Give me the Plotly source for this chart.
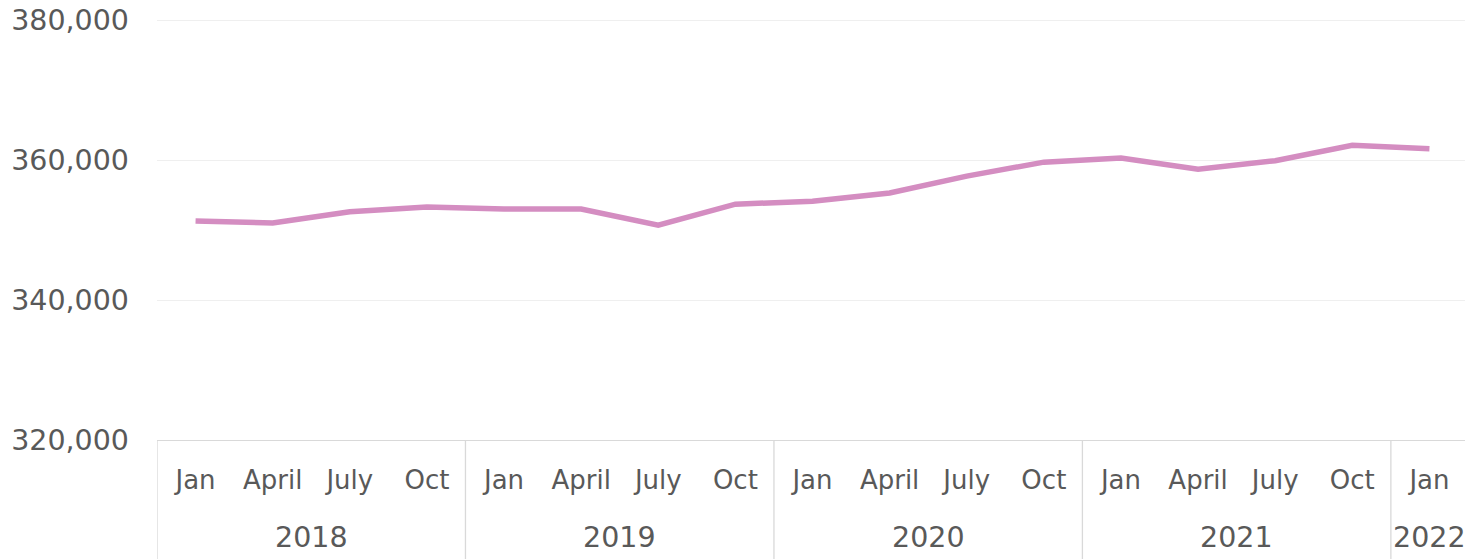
import plotly.graph_objects as go

months = ["Jan", "April", "July", "Oct",
          "Jan", "April", "July", "Oct",
          "Jan", "April", "July", "Oct",
          "Jan", "April", "July", "Oct",
          "Jan"]
years = ["2018", "2019", "2020", "2021", "2022"]
year_counts = [4, 4, 4, 4, 1]
values = [351300, 351000, 352600, 353300, 353000, 353000, 350700, 353700,
          354100, 355300, 357700, 359700, 360300, 358700, 359900, 362100, 361600]

TEXT = "#595959"
FONT = "DejaVu Sans"

x = list(range(len(values)))

fig = go.Figure()
fig.add_trace(go.Scatter(
    x=x, y=values, mode="lines",
    line=dict(color="#D48DC1", width=5.5),
    hoverinfo="skip", showlegend=False,
))

shapes = []
annotations = []
start = 0
bounds = [-0.5]
for yr, n in zip(years, year_counts):
    end = start + n
    bounds.append(end - 0.5)
    annotations.append(dict(
        x=(start + end - 1) / 2, y=0, xref="x", yref="paper",
        yshift=-97, text=yr, showarrow=False,
        font=dict(family=FONT, size=28.5, color=TEXT),
        yanchor="middle",
    ))
    start = end
for b in bounds:
    shapes.append(dict(
        type="line", xref="x", yref="paper",
        x0=b, x1=b, y0=0, y1=-0.30,
        line=dict(color="#D9D9D9", width=1.3),
    ))

fig.update_layout(
    width=1465, height=551,
    margin=dict(l=149, r=5, t=11, b=119, autoexpand=False),
    plot_bgcolor="white", paper_bgcolor="white",
    shapes=shapes, annotations=annotations,
    xaxis=dict(
        range=[-0.5, len(values) - 0.5],
        tickmode="array", tickvals=x, ticktext=months,
        showgrid=False, zeroline=False,
        showline=True, linecolor="#D9D9D9", linewidth=1.3,
        ticks="", ticklabelstandoff=17, automargin=False,
        tickfont=dict(family=FONT, size=26, color=TEXT),
    ),
    yaxis=dict(
        range=[320000, 380150],
        tickvals=[320000, 340000, 360000, 380000],
        ticktext=["320,000", "340,000", "360,000", "380,000"],
        showgrid=True, gridcolor="#EFEFEF", gridwidth=1.3,
        zeroline=False, showline=False, ticks="",
        ticklabelstandoff=27, ticklabeloverflow="allow", automargin=False,
        tickfont=dict(family=FONT, size=28.5, color=TEXT),
    ),
)

fig.write_html("out.html")
